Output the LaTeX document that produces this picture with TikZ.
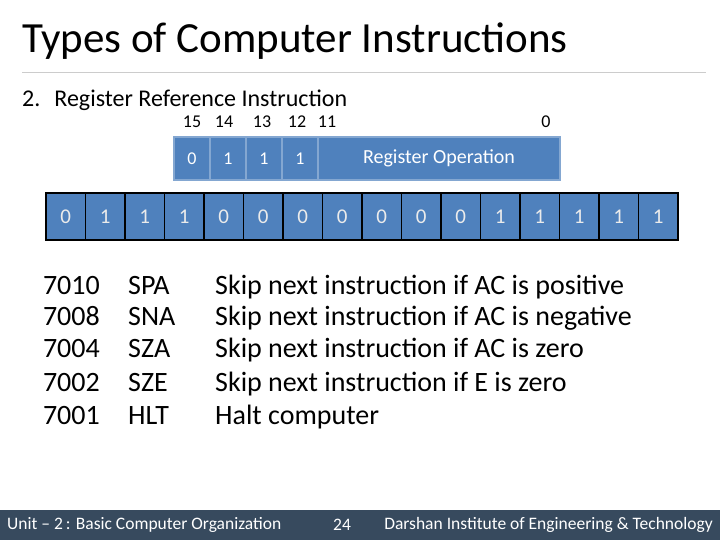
\documentclass[tikz,border=0pt]{standalone}
\usepackage{fontspec}
\setmainfont{Carlito}
\definecolor{cellblue}{HTML}{4F81BD}
\definecolor{footbg}{HTML}{374A5E}
\begin{document}
\begin{tikzpicture}[x=1pt,y=-1pt,
  topcell/.style={draw=cellblue!70!white,line width=1.5pt,fill=cellblue,text=white,font=\fontsize{18}{20}\selectfont,minimum height=43pt,inner sep=0pt},
  bitcell/.style={draw=black,line width=1.2pt,fill=cellblue,text=white!92!black,font=\fontsize{21}{24}\selectfont,minimum height=47pt,minimum width=39.5pt,inner sep=0pt},
  idx/.style={font=\fontsize{18}{20}\selectfont},
  row/.style={font=\fontsize{28}{32}\selectfont,inner sep=0pt}]
\useasboundingbox (0,0) rectangle (720,540);
\node[anchor=base west,font=\fontsize{43}{48}\selectfont,inner sep=0pt] (title) at (22,53) {Types of Computer Instructions};
\draw[gray!40,line width=0.8pt] (22,72) -- (706,72);
\node[anchor=base west,font=\fontsize{24}{28}\selectfont,inner sep=0pt] (sub) at (22,107) {2.\hspace{14pt}Register Reference Instruction};
% index labels
\node[idx] (i15) at (192,122) {15};
\node[idx] (i14) at (224,122) {14};
\node[idx] (i13) at (262,122) {13};
\node[idx] (i12) at (297,122) {12};
\node[idx] (i11) at (327,122) {11};
\node[idx] (i0) at (546,122) {0};
% top cells
\node[topcell,minimum width=36pt] (t1) at (192,158.5) {0};
\node[topcell,minimum width=36pt] (t2) at (228,158.5) {1};
\node[topcell,minimum width=36pt] (t3) at (264,158.5) {1};
\node[topcell,minimum width=36pt] (t4) at (300,158.5) {1};
\node[topcell,minimum width=242pt,font=\fontsize{20}{22}\selectfont] (t5) at (439,158.5) {Register Operation};
% bit cells
\foreach \b [count=\i from 0] in {0,1,1,1,0,0,0,0,0,0,0,1,1,1,1,1}{
  \node[bitcell] (b\i) at ({46+19.75+39.5*\i},216.5) {\b};
}
% table
\foreach \h/\m/\d/\y [count=\k] in {7010/SPA/Skip next instruction if AC is positive/294,
  7008/SNA/Skip next instruction if AC is negative/325,
  7004/SZA/Skip next instruction if AC is zero/357,
  7002/SZE/Skip next instruction if E is zero/391,
  7001/HLT/Halt computer/424}{
  \node[row,anchor=base east] (h\k) at (100,\y) {\h};
  \node[row,anchor=base west] (m\k) at (128,\y) {\m};
  \node[row,anchor=base west] (d\k) at (215,\y) {\d};
}
% footer
\fill[footbg] (0,510) rectangle (720,540);
\node[anchor=west,text=white,font=\fontsize{17.5}{19}\selectfont,inner sep=0pt] (f1) at (7,525) {Unit -- 2\,: Basic Computer Organization};
\node[text=white,font=\fontsize{17.5}{19}\selectfont,inner sep=0pt] (f2) at (342,525) {24};
\node[anchor=east,text=white,font=\fontsize{17.5}{19}\selectfont,inner sep=0pt] (f3) at (713,525) {Darshan Institute of Engineering \& Technology};
\end{tikzpicture}
\end{document}
